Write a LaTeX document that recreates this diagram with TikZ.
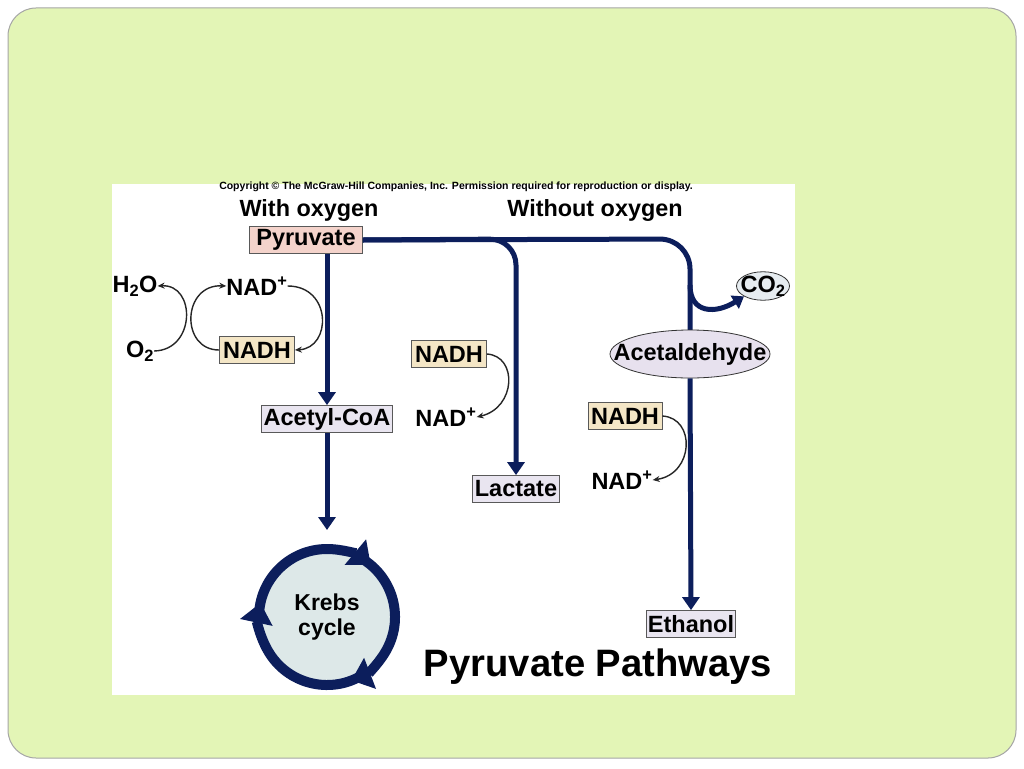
\documentclass[tikz,border=0pt]{standalone}
\usepackage{fontspec}
\setmainfont{Liberation Sans}
\usetikzlibrary{arrows.meta,shapes.geometric}
\definecolor{slide}{RGB}{227,245,182}
\definecolor{navy}{RGB}{12,30,92}
\definecolor{pyrfill}{RGB}{244,211,203}
\definecolor{nadhfill}{RGB}{244,230,198}
\definecolor{lavfill}{RGB}{233,229,240}
\definecolor{krebsfill}{RGB}{221,232,232}
\definecolor{aldfill}{RGB}{231,225,238}
\definecolor{cofill}{RGB}{230,236,240}
\tikzset{
  lab/.style={font=\fontsize{23.5}{25}\selectfont\bfseries, inner sep=0pt},
  head/.style={font=\fontsize{23.4}{25}\selectfont\bfseries, inner sep=0pt},
  boxed/.style={lab, draw=gray!70!black, line width=0.8pt, inner xsep=1.5pt, minimum height=27pt},
  oval/.style={lab, ellipse, draw=black!80, line width=0.8pt, inner sep=0pt},
  main/.style={draw=navy, line width=5pt},
  mainarr/.style={main, -{Triangle[width=17pt,length=13pt]}},
  thin/.style={draw=black!85, line width=1.4pt, -{Stealth[width=6pt,length=7pt]}},
  ring/.style={draw=navy, line width=10pt, -{Triangle[width=32pt,length=20pt]}},
}
\begin{document}
\begin{tikzpicture}[x=1pt,y=-1pt]
\useasboundingbox (0,0) rectangle (1024,768);
\fill[white] (0,0) rectangle (1024,768);
\draw[fill=slide, draw=gray!70, line width=1pt, rounded corners=28pt] (8,8) rectangle (1016,758);
\fill[white] (112,184) rectangle (795,695);

% titles
\node[font=\fontsize{10.5}{12}\selectfont\bfseries, inner sep=0pt] (copy) at (456,187) {Copyright \textcopyright{} The McGraw-Hill Companies, Inc. Permission required for reproduction or display.};
\node[head] (with) at (309,210) {With oxygen};
\node[head] (without) at (595,210) {Without oxygen};
\node[font=\fontsize{38.2}{40}\selectfont\bfseries, inner sep=0pt] (title) at (598,667) {Pyruvate Pathways};

% aerobic
\node[boxed, fill=pyrfill, minimum width=113pt] (pyr) at (306,240) {Pyruvate};
\node[boxed, fill=lavfill, minimum width=131pt] (acyl) at (327,419) {Acetyl-CoA};
\node[lab] (h2o) at (135,286) {H\textsubscript{2}O};
\node[lab] (o2) at (140,351) {O\textsubscript{2}};
\node[lab] (nadp1) at (257,286) {NAD\textsuperscript{+}};
\node[boxed, fill=nadhfill, minimum width=75pt] (nadh1) at (257,350) {NADH};

\draw[thin] (o2.east) .. controls (196,350) and (196,284) .. (h2o.east);
\draw[thin] (nadh1.west) .. controls (180,350) and (182,284) .. (nadp1.west);
\draw[thin] (nadp1.east) .. controls (332,286) and (332,348) .. (nadh1.east);

\draw[mainarr] (acyl.north |- pyr.south) -- (acyl.north);
\coordinate (ktop) at (327,530);
\draw[mainarr] (acyl.south) -- (ktop);

% Krebs cycle
\node[circle, fill=krebsfill, minimum size=132pt, inner sep=0pt, align=center, font=\fontsize{23}{25}\selectfont\bfseries] (krebs) at (327,617) {Krebs\\cycle};
\draw[ring] (krebs.center) ++(180:68) arc (180:310:68);
\draw[ring] (krebs.center) ++(298:68) arc (298:429:68);
\draw[ring] (krebs.center) ++(57:68) arc (57:192:68);

% lactate branch
\node[boxed, fill=lavfill, minimum width=87pt] (lac) at (516,489) {Lactate};
\node[boxed, fill=nadhfill, minimum width=75pt] (nadh2) at (449,354) {NADH};
\node[lab] (nadp2) at (446,417) {NAD\textsuperscript{+}};
\draw[thin] (nadh2.east) .. controls (518,356) and (516,408) .. (nadp2.east);
\draw[mainarr, rounded corners=26pt] (pyr.east) -- (516,239) -- (lac.north);

% ethanol branch
\node[oval, fill=cofill, minimum width=53pt, minimum height=28pt] (co2) at (763,286) {\makebox[30pt]{CO\textsubscript{2}}};
\node[boxed, fill=lavfill, minimum width=89pt] (eth) at (691,624) {Ethanol};
\node[boxed, fill=nadhfill, minimum width=74pt] (nadh3) at (625,416) {NADH};
\node[lab] (nadp3) at (622,480) {NAD\textsuperscript{+}};

\draw[main, rounded corners=30pt] (pyr.east) -- (690,239) -- (690,335);
\coordinate (br) at (690,285);
\draw[main, -{Triangle[width=15pt,length=11pt]}] (br) .. controls (690,314) and (716,314) .. (co2.south west);
\node[oval, fill=aldfill, minimum width=160pt, minimum height=48pt] (ald) at (690,354) {\makebox[100pt]{Acetaldehyde}};
\draw[mainarr] (ald.south) -- (eth.north);
\draw[thin] (nadh3.east) .. controls (696,418) and (694,474) .. (nadp3.east);
\end{tikzpicture}
\end{document}
